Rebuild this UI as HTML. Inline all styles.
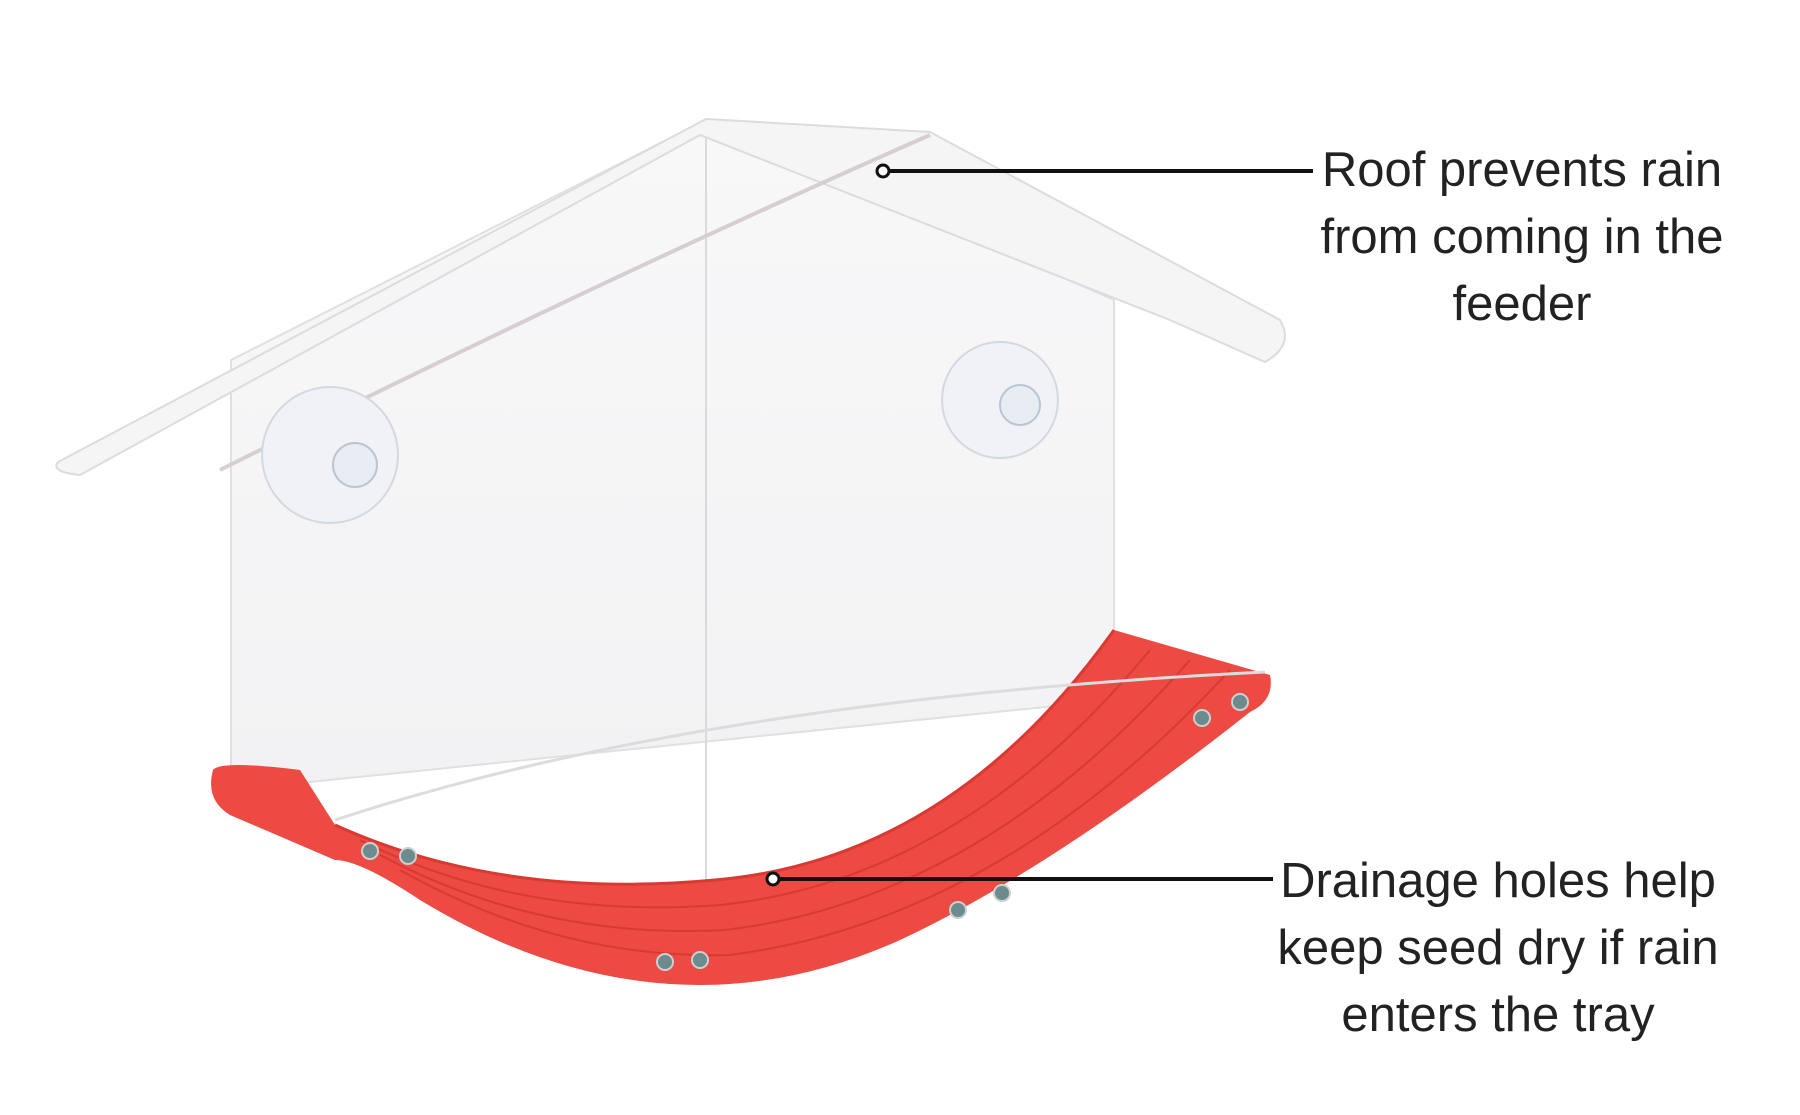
<!DOCTYPE html>
<html><head><meta charset="utf-8"><style>
html,body{margin:0;padding:0;background:#fff;width:1800px;height:1115px;overflow:hidden}
.t{position:absolute;font-family:"Liberation Sans",sans-serif;font-size:49px;color:#222;text-align:center;line-height:67px;font-weight:normal;letter-spacing:0px}
</style></head><body>
<svg width="1800" height="1115" viewBox="0 0 1800 1115" style="position:absolute;left:0;top:0">
<defs>
<linearGradient id="g" x1="0" y1="0" x2="0" y2="1"><stop offset="0" stop-color="#f8f8f9"/><stop offset="1" stop-color="#f2f2f4"/></linearGradient>
</defs>
<path d="M231 360 L706 120 L1114 300 L1114 700 L231 790 Z" fill="url(#g)" stroke="#e0e0e3" stroke-width="2"/>
<line x1="706" y1="120" x2="706" y2="890" stroke="#dadade" stroke-width="2"/>
<path d="M58 462 L706 119 L930 132 L1280 320 Q1295 345 1265 362 L1170 320 L700 135 L80 475 Q50 472 58 462 Z" fill="#f5f5f6" stroke="#dcdce0" stroke-width="2"/>
<path d="M220 470 Q600 280 930 135" fill="none" stroke="#d6ced2" stroke-width="4"/>
<circle cx="330" cy="455" r="68" fill="#f0f2f5" stroke="#d4d8df" stroke-width="2"/>
<circle cx="355" cy="465" r="22" fill="#e8ecf3" stroke="#bcc4d2" stroke-width="2"/>
<circle cx="1000" cy="400" r="58" fill="#f0f2f5" stroke="#d4d8df" stroke-width="2"/>
<circle cx="1020" cy="405" r="20" fill="#e8ecf3" stroke="#bcc4d2" stroke-width="2"/>
<path d="M213 770 Q220 760 300 770 L335 825 Q500 900 715 880 Q950 860 1114 630 L1270 675 Q1275 700 1250 712 Q1050 870 900 940 Q800 985 700 985 Q560 985 420 900 Q360 860 335 860 L230 815 Q205 800 213 770 Z" fill="#ec4a42"/>
<path d="M335 825 Q500 900 715 880 Q950 860 1114 630" fill="none" stroke="#d83a33" stroke-width="3"/>
<path d="M360 840 Q520 920 720 905 Q960 880 1150 650" fill="none" stroke="#d83a33" stroke-width="2"/>
<path d="M380 855 Q540 940 725 930 Q980 900 1190 660" fill="none" stroke="#d83a33" stroke-width="2"/>
<path d="M400 870 Q560 960 730 955 Q1000 920 1230 670" fill="none" stroke="#d83a33" stroke-width="2"/>
<path d="M335 820 Q700 700 1265 672" fill="none" stroke="#dcdcdf" stroke-width="3"/>
<g fill="#6d8a8c" stroke="#c9d2d2" stroke-width="2">
<circle cx="370" cy="851" r="8"/><circle cx="408" cy="856" r="8"/>
<circle cx="665" cy="962" r="8"/><circle cx="700" cy="960" r="8"/>
<circle cx="958" cy="910" r="8"/><circle cx="1002" cy="893" r="8"/>
<circle cx="1202" cy="718" r="8"/><circle cx="1240" cy="702" r="8"/>
</g>
<line x1="883" y1="171" x2="1313" y2="171" stroke="#111" stroke-width="4"/>
<circle cx="883" cy="171" r="6" fill="#fff" stroke="#111" stroke-width="3"/>
<line x1="773" y1="879" x2="1273" y2="879" stroke="#111" stroke-width="4"/>
<circle cx="773" cy="879" r="6" fill="#fff" stroke="#111" stroke-width="3"/>
</svg>
<div class="t" style="left:1272px;top:137px;width:500px">Roof prevents rain<br>from coming in the<br>feeder</div>
<div class="t" style="left:1238px;top:848px;width:520px">Drainage holes help<br>keep seed dry if rain<br>enters the tray</div>
</body></html>
